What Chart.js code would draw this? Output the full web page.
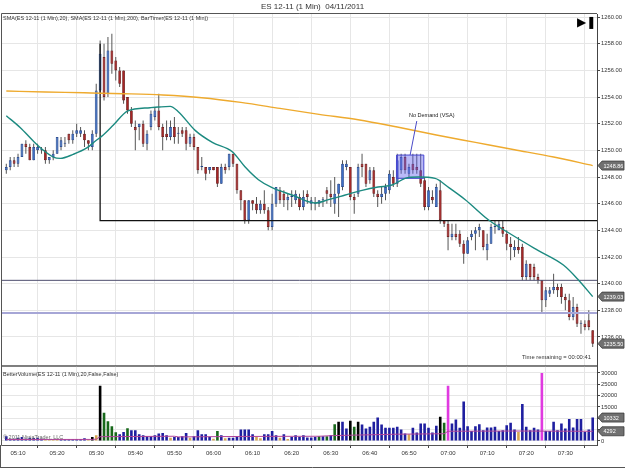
<!DOCTYPE html>
<html><head><meta charset="utf-8">
<script src="https://cdn.jsdelivr.net/npm/chart.js@4.4.0/dist/chart.umd.min.js"></script>
<style>
body{margin:0;background:#fff;width:625px;height:468px;overflow:hidden;position:relative;font-family:"Liberation Sans",Arial,sans-serif;}
.t{position:absolute;white-space:nowrap;color:#222;line-height:1;}
canvas{position:absolute;left:0;}
</style></head><body>
<canvas id="c1" width="625" height="370" style="top:0"></canvas>
<canvas id="c2" width="625" height="106" style="top:362px"></canvas>
<div class="t" style="left:0;width:625px;text-align:center;top:3px;font-size:8px;color:#333">ES 12-11 (1 Min)&nbsp; 04/11/2011</div>
<div class="t" style="left:3px;top:16px;font-size:5.5px;color:#333">SMA(ES 12-11 (1 Min),20), SMA(ES 12-11 (1 Min),200), BarTimer(ES 12-11 (1 Min))</div>
<div class="t" style="left:577px;top:16px;font-size:12px;font-family:'DejaVu Sans';color:#000">&#9654;&#10074;</div>
<div class="t" style="left:522px;top:355px;font-size:5.8px;color:#333">Time remaining = 00:00:41</div>
<div class="t" style="left:3px;top:372px;font-size:5.5px;color:#333">BetterVolume(ES 12-11 (1 Min),20,False,False)</div>
<div class="t" style="left:3px;top:435px;font-size:5.5px;color:#666">&copy; 2011 NinjaTrader, LLC</div>
<script>
// ---------- data ----------
const startMinute = 307; // first bar 05:07
const opens = [1248.5,1248.75,1249.25,1249.0,1249.5,1250.5,1250.25,1249.25,1250.0,1250.0,
1250.0,1249.25,1249.5,1249.75,1250.25,1250.5,1251.25,1250.75,1251.25,1251.25,
1251.25,1250.75,1250.25,1251.25,1254.5,1257.0,1254.25,1257.5,1256.75,1256.0,
1256.0,1254.0,1253.0,1251.75,1251.75,1252.0,1250.5,1251.75,1252.5,1253.0,
1251.75,1251.25,1251.0,1251.75,1251.25,1251.5,1251.5,1250.5,1251.0,1250.25,
1248.75,1248.75,1248.5,1248.75,1248.75,1247.5,1248.75,1248.75,1249.75,1249.0,
1247.0,1246.25,1244.75,1246.25,1246.0,1245.5,1246.0,1245.5,1244.25,1246.0,
1247.0,1246.75,1246.25,1246.5,1246.25,1246.5,1245.75,1246.75,1246.0,1246.0,
1246.0,1246.25,1247.0,1246.75,1246.0,1246.75,1247.25,1248.75,1248.75,1246.5,
1246.75,1249.0,1249.0,1247.75,1248.5,1246.75,1246.5,1246.75,1247.0,1248.0,
1247.5,1248.5,1249.5,1248.25,1249.0,1248.75,1248.5,1247.75,1245.75,1246.5,
1245.75,1247.0,1244.75,1244.5,1243.5,1243.75,1243.75,1243.0,1242.25,1243.5,
1243.75,1244.0,1244.0,1242.5,1243.0,1244.25,1244.0,1244.25,1243.75,1243.0,
1242.5,1242.75,1242.75,1240.5,1241.5,1241.25,1240.5,1240.25,1238.75,1239.25,
1239.5,1239.75,1239.75,1239.0,1238.75,1237.5,1238.25,1237.0,1237.0,1237.25,
1236.5];
const highs = [1249.0,1249.5,1249.5,1249.75,1250.5,1250.75,1250.5,1250.5,1250.5,1250.25,
1250.25,1249.5,1250.0,1251.0,1251.0,1251.0,1251.25,1251.5,1252.0,1251.75,
1251.5,1250.75,1251.5,1255.0,1258.25,1258.0,1258.5,1258.75,1257.0,1256.25,
1256.0,1254.0,1253.25,1252.25,1252.0,1252.25,1251.5,1253.0,1253.25,1254.25,
1252.0,1252.25,1252.25,1252.5,1251.75,1251.75,1251.75,1251.25,1251.25,1250.25,
1249.5,1248.75,1248.75,1248.75,1248.75,1249.0,1249.0,1249.75,1249.75,1249.0,
1247.0,1246.25,1246.25,1246.25,1246.5,1246.25,1247.0,1245.75,1246.75,1247.25,
1247.25,1247.0,1246.75,1247.0,1247.0,1246.75,1247.0,1247.0,1246.5,1246.5,
1246.25,1246.5,1247.25,1247.75,1248.0,1247.5,1249.25,1249.25,1248.75,1246.75,
1249.0,1249.75,1249.0,1248.75,1248.75,1247.0,1247.25,1247.5,1248.5,1248.5,
1249.75,1249.75,1249.75,1249.0,1249.75,1249.75,1249.75,1248.0,1247.25,1247.0,
1247.5,1247.75,1244.75,1244.75,1244.5,1244.5,1244.0,1243.25,1243.5,1244.0,
1244.25,1244.5,1244.0,1243.75,1244.5,1244.75,1244.75,1244.75,1244.0,1243.5,
1243.25,1243.5,1243.0,1241.75,1241.5,1241.5,1240.75,1240.25,1239.75,1239.75,
1240.75,1240.0,1240.0,1239.25,1239.25,1239.0,1238.5,1237.25,1237.25,1238.0,
1236.5];
const lows = [1248.25,1248.5,1248.75,1248.75,1249.5,1249.75,1249.25,1249.25,1249.75,1249.75,
1249.0,1249.0,1249.25,1249.75,1250.0,1250.25,1250.5,1250.5,1251.0,1251.0,
1250.25,1250.0,1250.0,1251.0,1254.25,1253.75,1254.0,1255.75,1255.25,1254.75,
1253.5,1252.75,1251.75,1250.0,1250.75,1250.25,1250.0,1251.5,1252.25,1251.5,
1250.0,1250.75,1250.75,1250.5,1250.5,1251.0,1250.0,1250.25,1250.0,1248.25,
1248.5,1247.75,1248.25,1248.5,1247.25,1247.5,1248.25,1248.5,1248.75,1246.75,
1245.5,1244.5,1244.5,1245.5,1245.25,1245.25,1245.25,1244.0,1244.0,1245.75,
1246.0,1245.75,1245.5,1245.75,1246.0,1245.5,1245.5,1246.0,1245.5,1245.5,
1245.75,1245.75,1246.0,1245.75,1245.25,1245.0,1247.0,1248.5,1246.25,1245.25,
1246.5,1248.0,1247.25,1247.5,1246.5,1245.75,1246.0,1246.25,1246.75,1247.25,
1247.25,1248.25,1248.25,1248.0,1248.25,1248.25,1247.25,1245.5,1245.5,1246.0,
1245.75,1244.5,1244.25,1242.5,1243.25,1243.25,1242.75,1241.5,1242.25,1243.25,
1242.5,1243.5,1242.5,1241.75,1243.0,1243.75,1244.0,1243.5,1242.5,1241.75,
1242.0,1242.25,1240.25,1240.25,1240.25,1240.25,1240.0,1237.75,1238.25,1239.0,
1239.25,1239.0,1238.5,1238.0,1237.25,1237.25,1236.75,1236.25,1236.5,1236.5,
1235.25];
const closes = [1248.75,1249.25,1249.0,1249.5,1250.5,1250.25,1249.25,1250.25,1250.25,1250.0,
1249.25,1249.5,1249.75,1251.0,1250.75,1250.5,1250.75,1251.25,1251.5,1251.5,
1250.75,1250.5,1251.25,1254.5,1257.25,1254.0,1257.5,1256.5,1256.0,1255.0,
1253.75,1253.0,1252.0,1251.5,1252.0,1250.5,1251.25,1252.75,1253.0,1251.75,
1251.0,1251.0,1251.75,1251.0,1251.25,1251.25,1250.5,1251.0,1250.25,1248.5,
1248.75,1248.25,1248.75,1248.5,1247.5,1248.75,1248.5,1249.75,1249.0,1247.0,
1246.25,1244.75,1246.25,1246.0,1245.5,1246.0,1245.5,1244.25,1246.0,1247.25,
1246.25,1246.25,1246.5,1246.5,1246.75,1245.75,1246.5,1246.5,1246.25,1246.0,
1246.25,1246.25,1246.75,1246.5,1246.75,1247.5,1249.0,1249.0,1246.5,1246.25,
1248.75,1248.75,1247.5,1248.5,1246.75,1246.5,1246.75,1247.25,1248.25,1247.5,
1249.25,1249.5,1248.5,1248.75,1248.5,1248.5,1247.5,1245.75,1247.0,1246.25,
1247.25,1244.75,1244.5,1243.5,1243.75,1243.5,1243.0,1242.25,1243.25,1243.75,
1244.0,1244.25,1242.75,1243.0,1244.25,1244.25,1244.5,1243.75,1243.0,1242.75,
1242.75,1242.5,1240.5,1241.5,1240.5,1240.5,1240.25,1238.75,1239.5,1239.5,
1239.75,1239.5,1239.0,1238.75,1237.5,1238.25,1237.0,1237.0,1236.75,1236.75,
1235.5];
const volumes = [2080,1040,1040,1485,1780,1040,1485,1340,1485,1040,
600,600,600,900,600,750,750,750,750,900,
1200,600,1800,2500,24350,12470,8760,6530,3860,2970,
4000,5640,4750,4750,2970,2520,2080,2080,2520,3270,
3560,2520,1485,1780,1780,2080,3560,1485,2080,4750,
2970,2970,1780,1040,4450,2520,1190,1485,1485,1780,
5050,5050,5050,2970,1780,1190,2970,2970,4450,2520,
1485,2970,890,1780,2520,1780,2520,1500,1500,1780,
2080,2080,2080,2500,7425,8460,8460,5500,8900,6240,
8460,7280,5500,6240,8460,10400,7280,5800,5800,5800,
6240,5050,3270,2970,5800,3700,7720,7720,5800,3700,
6680,10700,8020,24350,7720,9500,5800,17370,6530,4450,
6530,7425,4750,5940,5940,6240,4450,4750,6980,8020,
5050,4000,16330,6240,4750,5800,5050,30000,4450,4450,
8460,4750,7720,5500,9650,5940,9650,9650,4000,5050,
10332];
// BetterVolume bar kinds: n normal, k climax, h churn, x climax+churn, l low volume
const volumeKinds = ['n','n','n','n','n','n','n','n','n','n',
'l','l','l','l','n','n','n','n','n','n',
'n','l','k','l','k','h','h','h','h','n',
'n','h','n','n','n','n','n','n','n','n',
'n','n','l','n','n','n','n','l','n','n',
'n','n','n','l','h','n','l','n','n','n',
'n','n','n','n','l','l','n','n','n','n',
'l','n','l','n','n','n','n','n','n','n',
'h','n','h','n','h','k','n','n','k','h',
'k','n','n','n','n','n','n','n','n','n',
'n','n','n','l','n','n','n','n','n','n',
'n','k','h','x','n','n','n','n','n','n',
'n','n','n','n','n','n','n','n','n','n',
'n','l','n','n','n','n','n','x','n','n',
'n','n','n','n','n','n','n','n','n','n',
'n'];
const sma20Bars   = [0,3.6,6.9,9.5,12,13.8,17.1,20.7,22.8,24.8,27.4,31,36.8,38.9,41.9,44,48.3,52.7,57.8,61.1,64.5,68,73.1,79,82.4,86.7,91,95.1,98.7,102,105.4,109.7,113,117.4,123.3,129.4,136,142.5,146.3,150];
const sma20Values = [1252.6,1251.7,1250.7,1250.0,1249.5,1249.4,1249.7,1250.2,1250.7,1251.15,1251.9,1252.95,1253.2,1253.25,1253.3,1252.9,1251.5,1250.6,1249.9,1248.75,1247.8,1247.2,1246.65,1246.05,1246.3,1246.65,1247.0,1247.25,1247.4,1247.9,1248.0,1247.9,1247.25,1246.3,1244.8,1243.65,1242.5,1241.4,1240.3,1239.03];
const sma200Bars   = [0,10,20,30,40,50,60,70,80,90,100,110,120,130,140,150];
const sma200Values = [1254.45,1254.38,1254.32,1254.25,1254.15,1253.95,1253.6,1253.15,1252.7,1252.3,1251.75,1251.15,1250.6,1250.05,1249.5,1248.86];
const volAvgBars   = [0,22,23,24,43,44,60,80,84,100,112,113,130,150];
const volAvgValues = [650,700,800,1900,2100,1800,2000,2100,2400,3000,3200,4300,4400,4292];
const priceTicks  = [1236,1238,1240,1242,1244,1246,1248,1250,1252,1254,1256,1258,1260];
const volumeTicks = [0,5000,10000,15000,20000,25000,30000];
const timeTicks   = ['05:10','05:20','05:30','05:40','05:50','06:00','06:10','06:20','06:30','06:40','06:50','07:00','07:10','07:20','07:30'];
// drawn objects (bar offsets / prices)
const rayBar = 24, rayTopPrice = 1258.0, rayLevel = 1244.73;
const levelLines = [1240.25, 1237.8];
const boxBars = [99.9, 106.8], boxPrices = [1247.9, 1249.65];
const noteBars = [103.3, 105.0], notePrices = [1249.65, 1252.2];
const noteText = 'No Demand (VSA)', noteTextBar = 103.0, noteTextPrice = 1252.65;

// ---------- helpers ----------
const toMin = s => { const p = s.split(':'); return (+p[0]) * 60 + (+p[1]); };
const xMin = 305.9, xMax = 458.1;
const times = opens.map((_, i) => startMinute + i);
const xy = (bars, vals) => bars.map((b, i) => ({x: startMinute + b, y: vals[i]}));
const FONT = '"Liberation Sans", Arial, sans-serif';
const gridColor = '#e6e6e6';

function tag(ctx, x, y, text) {
  ctx.save();
  ctx.beginPath();
  ctx.moveTo(x + 1, y);
  ctx.lineTo(x + 5, y - 4.5);
  ctx.lineTo(x + 27, y - 4.5);
  ctx.lineTo(x + 27, y + 4.5);
  ctx.lineTo(x + 5, y + 4.5);
  ctx.closePath();
  ctx.fillStyle = '#707070'; ctx.fill();
  ctx.strokeStyle = '#3a3a3a'; ctx.lineWidth = 0.8; ctx.stroke();
  ctx.fillStyle = '#fff'; ctx.font = '5.5px ' + FONT; ctx.textBaseline = 'middle';
  ctx.fillText(text, x + 6.5, y + 0.5);
  ctx.restore();
}
const framePlugin = {
  id: 'frame',
  afterDraw(chart, args, opts) {
    const {ctx, chartArea: a} = chart;
    ctx.save();
    ctx.strokeStyle = '#555'; ctx.lineWidth = 1;
    ctx.beginPath();
    ctx.moveTo(a.left - 0.5, a.bottom + 0.5); ctx.lineTo(a.left - 0.5, a.top - 0.5); ctx.lineTo(a.right, a.top - 0.5);
    ctx.moveTo(a.left - 0.5, a.bottom + 0.5); ctx.lineTo(a.right, a.bottom + 0.5);
    if (opts.outerBottom) { ctx.moveTo(0, chart.height - 0.5); ctx.lineTo(chart.width, chart.height - 0.5); ctx.moveTo(0.5, a.bottom); ctx.lineTo(0.5, chart.height); }
    ctx.stroke();
    const y = chart.scales.y;
    (opts.tags || []).forEach(t => tag(ctx, a.right, y.getPixelForValue(t.v), t.label));
    if (opts.note) {
      const x = chart.scales.x;
      ctx.fillStyle = '#222'; ctx.font = '5.5px ' + FONT; ctx.textBaseline = 'middle';
      ctx.fillText(opts.note.text, x.getPixelForValue(opts.note.x), y.getPixelForValue(opts.note.y));
    }
    ctx.restore();
  }
};

// ---------- price chart ----------
const upFill = '#3d6fc6', upEdge = '#1d3f88', dnFill = '#a82424', dnEdge = '#651010';
const isUp = i => closes[i] >= opens[i];
const lastClose = closes[closes.length - 1];
new Chart(document.getElementById('c1'), {
  type: 'bar',
  data: {
    datasets: [
      {label: 'wick', data: times.map((t, i) => ({x: t, y: [lows[i], highs[i]]})), backgroundColor: '#555',
       grouped: false, maxBarThickness: 1, order: 3},
      {label: 'body', data: times.map((t, i) => ({x: t, y: [opens[i], closes[i]]})),
       backgroundColor: times.map((_, i) => isUp(i) ? upFill : dnFill),
       borderColor: times.map((_, i) => isUp(i) ? upEdge : dnEdge), borderWidth: 0.8, borderSkipped: false,
       grouped: false, maxBarThickness: 3, minBarLength: 1, order: 2},
      {type: 'line', label: 'box', data: [
         {x: startMinute + boxBars[0], y: boxPrices[0]}, {x: startMinute + boxBars[1], y: boxPrices[0]},
         {x: startMinute + boxBars[1], y: boxPrices[1]}, {x: startMinute + boxBars[0], y: boxPrices[1]},
         {x: startMinute + boxBars[0], y: boxPrices[0]}],
       borderColor: '#4848d0', borderWidth: 1, backgroundColor: 'rgba(90,90,235,0.42)', fill: 'shape', pointRadius: 0, order: 1},
      {type: 'line', label: 'note', data: xy(noteBars, notePrices), borderColor: '#4a4ac8', borderWidth: 1, pointRadius: 0, order: 0},
      {type: 'line', label: 'SMA200', data: xy(sma200Bars, sma200Values), borderColor: '#eeaa2e', borderWidth: 1.4, pointRadius: 0, cubicInterpolationMode: 'monotone', order: 0},
      {type: 'line', label: 'SMA20', data: xy(sma20Bars, sma20Values), borderColor: '#1c8a80', borderWidth: 1.4, pointRadius: 0, cubicInterpolationMode: 'monotone', order: 0},
      {type: 'line', label: 'ray', data: [{x: startMinute + rayBar, y: rayTopPrice}, {x: startMinute + rayBar, y: rayLevel}, {x: xMax, y: rayLevel}],
       borderColor: '#111', borderWidth: 1.3, pointRadius: 0, order: 0},
      {type: 'line', label: 'L1', data: [{x: xMin, y: levelLines[0]}, {x: xMax, y: levelLines[0]}], borderColor: '#4e4e6e', borderWidth: 1, pointRadius: 0, order: 0},
      {type: 'line', label: 'L2', data: [{x: xMin, y: levelLines[1]}, {x: xMax, y: levelLines[1]}], borderColor: '#a6a6d6', borderWidth: 2, pointRadius: 0, order: 0}
    ]
  },
  options: {
    responsive: false, animation: false, devicePixelRatio: 1,
    layout: {padding: {left: 2, top: 14, right: 0, bottom: 0}},
    plugins: {legend: {display: false}, tooltip: {enabled: false},
      frame: {tags: [{v: sma200Values[sma200Values.length - 1], label: sma200Values[sma200Values.length - 1].toFixed(2)},
                     {v: sma20Values[sma20Values.length - 1], label: sma20Values[sma20Values.length - 1].toFixed(2)},
                     {v: lastClose, label: lastClose.toFixed(2)}],
              note: {text: noteText, x: startMinute + noteTextBar, y: noteTextPrice}}},
    scales: {
      x: {type: 'linear', min: xMin, max: xMax, offset: false,
          afterBuildTicks: s => { s.ticks = timeTicks.map(v => ({value: toMin(v)})); },
          afterFit: s => { s.height = 0; },
          ticks: {display: false}, grid: {color: gridColor, drawTicks: false}, border: {display: false}},
      y: {position: 'right', min: 1233.86, max: 1260.23,
          afterBuildTicks: s => { s.ticks = priceTicks.map(v => ({value: v})); },
          afterFit: s => { s.width = 28; },
          ticks: {callback: v => Number(v).toFixed(2), font: {size: 5.8, family: FONT}, color: '#333', padding: 1},
          grid: {color: gridColor, tickColor: '#444', tickLength: 3}, border: {color: '#444'}}
    }
  },
  plugins: [framePlugin]
});

// ---------- volume chart ----------
const kindColor = {n: '#1f1fa0', k: '#000000', h: '#17681a', x: '#e03ae0', l: '#d6a752'};
new Chart(document.getElementById('c2'), {
  type: 'bar',
  data: {
    datasets: [
      {label: 'avg', type: 'line', data: xy(volAvgBars, volAvgValues), borderColor: '#b0449a', borderWidth: 1, pointRadius: 0, order: 0},
      {label: 'vol', data: times.map((t, i) => ({x: t, y: volumes[i]})),
       backgroundColor: volumeKinds.map(k => kindColor[k]), grouped: false, maxBarThickness: 2.6, order: 1}
    ]
  },
  options: {
    responsive: false, animation: false, devicePixelRatio: 1,
    layout: {padding: {left: 2, top: 0, right: 0, bottom: 0}},
    plugins: {legend: {display: false}, tooltip: {enabled: false},
      frame: {outerBottom: true, tags: [{v: volumes[volumes.length - 1], label: String(volumes[volumes.length - 1])},
                                        {v: volAvgValues[volAvgValues.length - 1], label: String(volAvgValues[volAvgValues.length - 1])}]}},
    scales: {
      x: {type: 'linear', min: xMin, max: xMax, offset: false,
          afterBuildTicks: s => { s.ticks = timeTicks.map(v => ({value: toMin(v)})); },
          afterFit: s => { s.height = 23; },
          ticks: {callback: (v, i) => timeTicks[i], font: {size: 6, family: FONT}, color: '#333', padding: 2, maxRotation: 0, autoSkip: false},
          grid: {color: gridColor, tickColor: '#444', tickLength: 3}, border: {color: '#444'}},
      y: {position: 'right', min: -1765, max: 32868,
          afterBuildTicks: s => { s.ticks = volumeTicks.map(v => ({value: v})); },
          afterFit: s => { s.width = 28; },
          ticks: {callback: v => String(v), font: {size: 5.8, family: FONT}, color: '#333', padding: 1},
          grid: {color: gridColor, tickColor: '#444', tickLength: 3}, border: {color: '#444'}}
    }
  },
  plugins: [framePlugin]
});
</script>
</body></html>
